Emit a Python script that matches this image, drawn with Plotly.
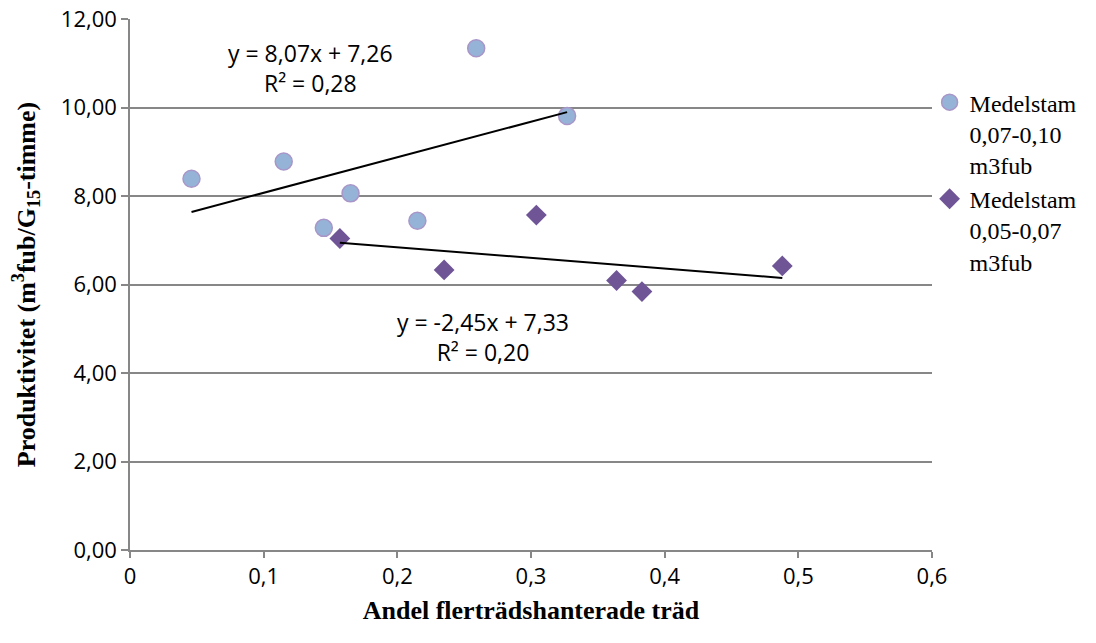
import numpy as np
import plotly.graph_objects as go

# Data
x_big = [0.046, 0.115, 0.259, 0.327, 0.165, 0.145, 0.215]
y_big = [8.39, 8.78, 11.34, 9.81, 8.06, 7.28, 7.44]
x_small = [0.157, 0.235, 0.304, 0.364, 0.383, 0.488]
y_small = [7.04, 6.33, 7.57, 6.09, 5.84, 6.42]

name_big = "Medelstam<br>0,07-0,10<br>m3fub"
name_small = "Medelstam<br>0,05-0,07<br>m3fub"
eq_big = "y = 8,07x + 7,26<br>R² = 0,28"
eq_small = "y = -2,45x + 7,33<br>R² = 0,20"

x_ticks = [0, 0.1, 0.2, 0.3, 0.4, 0.5, 0.6]
x_ticktext = ["0", "0,1", "0,2", "0,3", "0,4", "0,5", "0,6"]
y_ticks = [0, 2, 4, 6, 8, 10, 12]
y_ticktext = ["0,00", "2,00", "4,00", "6,00", "8,00", "10,00", "12,00"]

GRID = "#878787"
TICKFONT = dict(family="Open Sans", size=22, color="#000000")
SERIF = "Liberation Serif"

fig = go.Figure()

fig.add_trace(go.Scatter(
    x=x_big, y=y_big, mode="markers", name=name_big,
    marker=dict(symbol="circle", size=17, color="#95B3D7",
                line=dict(color="#A996C8", width=1.5)),
))
fig.add_trace(go.Scatter(
    x=x_small, y=y_small, mode="markers", name=name_small,
    marker=dict(symbol="diamond", size=16, color="#6F5596",
                line=dict(width=0)),
))

# linear trend lines fitted to the data, spanning each series' x range
for xs, ys in [(x_big, y_big), (x_small, y_small)]:
    k, m = np.polyfit(xs, ys, 1)
    xe = np.array([min(xs), max(xs)])
    fig.add_trace(go.Scatter(x=xe, y=k * xe + m, mode="lines",
                             line=dict(color="#000000", width=2),
                             showlegend=False, hoverinfo="skip"))

ANNFONT = dict(family="Open Sans", size=23, color="#000")
fig.add_annotation(x=0.1354, y=10.89, xref="x", yref="y", text=eq_big,
                   showarrow=False, font=ANNFONT, align="center")
fig.add_annotation(x=0.264, y=4.81, xref="x", yref="y", text=eq_small,
                   showarrow=False, font=ANNFONT, align="center")

# page body has an 8px margin, so the figure is 8px smaller in each direction
fig.update_layout(
    width=1088, height=635,
    paper_bgcolor="white", plot_bgcolor="white",
    margin=dict(l=122, r=164, t=11, b=93),
    showlegend=True,
    legend=dict(x=0.997, y=0.885, xanchor="left", yanchor="top",
                font=dict(family=SERIF, size=24, color="#000"),
                valign="top", itemwidth=30, tracegroupgap=2,
                bgcolor="rgba(0,0,0,0)"),
    xaxis=dict(range=[0, 0.6], tickvals=x_ticks, ticktext=x_ticktext,
               showgrid=False, zeroline=False, automargin=False,
               ticklabeloverflow="allow",
               showline=True, linecolor=GRID, linewidth=1.5,
               ticks="outside", ticklen=6, tickcolor=GRID, tickwidth=1.5,
               tickfont=TICKFONT,
               title=dict(text="<b>Andel flerträdshanterade träd</b>",
                          font=dict(family=SERIF, size=26, color="#000"),
                          standoff=12)),
    yaxis=dict(range=[0, 12], tickvals=y_ticks, ticktext=y_ticktext,
               showgrid=True, gridcolor=GRID, gridwidth=1.5, zeroline=False,
               showline=True, linecolor=GRID, linewidth=1.5, automargin=False,
               ticklabeloverflow="allow",
               ticks="outside", ticklen=7, tickcolor=GRID, tickwidth=1.5,
               tickfont=TICKFONT,
               title=dict(text="<b>Produktivitet (m<sup>3</sup>fub/G<sub>15</sub>-timme)</b>",
                          font=dict(family=SERIF, size=26, color="#000"),
                          standoff=19)),
)

fig.write_html("out.html")
